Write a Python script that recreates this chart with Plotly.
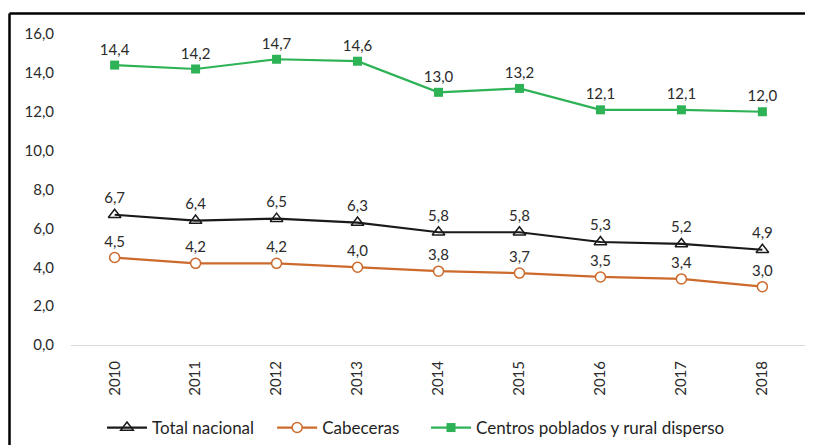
import plotly.graph_objects as go

years = ["2010", "2011", "2012", "2013", "2014", "2015", "2016", "2017", "2018"]
total_nacional = [6.7, 6.4, 6.5, 6.3, 5.8, 5.8, 5.3, 5.2, 4.9]
cabeceras = [4.5, 4.2, 4.2, 4.0, 3.8, 3.7, 3.5, 3.4, 3.0]
centros = [14.4, 14.2, 14.7, 14.6, 13.0, 13.2, 12.1, 12.1, 12.0]
y_ticks = [0, 2, 4, 6, 8, 10, 12, 14, 16]

FONT = "Lato"
OFF = 8  # page body margin
W, H = 813, 445
# target plot area in screen pixels
SX0, SX1, SY0, SY1 = 71, 806, 34, 345
ML, MT = SX0 - OFF, SY0 - OFF
MR = W - (SX1 - OFF)
MB = H - (SY1 - OFF)
PW, PH = SX1 - SX0, SY1 - SY0

def px_x(x):
    return (x - SX0) / PW

def px_y(y):
    return (SY1 - y) / PH

fig = go.Figure()

def fmt(v):
    return f"{v:.1f}".replace(".", ",")

NB = "\u00a0"
series = [
    ("Total nacional" + NB * 3, total_nacional, "#1a1a1a", dict(symbol="triangle-up-open", size=11, color="#1a1a1a", line=dict(width=1.5))),
    ("Cabeceras" + NB * 5, cabeceras, "#CC6A2C", dict(symbol="circle", size=10, color="white", line=dict(color="#CC6A2C", width=1.5))),
    ("Centros poblados y rural disperso", centros, "#2DB256", dict(symbol="square", size=9, color="#2DB256")),
]

for name, vals, col, mk in series:
    fig.add_trace(go.Scatter(
        x=years, y=vals, name=name, mode="lines+markers+text",
        line=dict(color=col, width=2.2),
        marker=mk,
        text=[fmt(v) for v in vals],
        textposition="top center",
        textfont=dict(family=FONT, size=15, color="#2b2b2b"),
        cliponaxis=False,
    ))

fig.update_layout(
    width=W, height=H,
    margin=dict(l=ML, r=MR, t=MT, b=MB, autoexpand=False),
    paper_bgcolor="white", plot_bgcolor="white",
    separators=",.",
    font=dict(family=FONT, size=15, color="#2b2b2b"),
    showlegend=True,
    legend=dict(orientation="h", x=px_x(112 - 10), xanchor="left", y=px_y(428), yanchor="middle",
                font=dict(family=FONT, size=17, color="#1f1f1f"), itemwidth=40,
                tracegroupgap=0, traceorder="normal"),
    xaxis=dict(type="category", tickangle=-90, showgrid=False, showline=True, automargin=False,
               linecolor="#d9d9d9", linewidth=1, ticks="", tickfont=dict(family=FONT, size=15, color="#2b2b2b"),
               ticklabelstandoff=9),
    yaxis=dict(range=[0, 16], tickvals=y_ticks, tickformat=".1f", showgrid=False, automargin=False,
               zeroline=False, showline=False, ticks="",
               tickfont=dict(family=FONT, size=15, color="#2b2b2b"), ticklabelstandoff=16),
)

fig.add_shape(type="line", xref="paper", yref="paper", x0=px_x(9.5), x1=px_x(830), y0=px_y(13.5), y1=px_y(13.5),
              line=dict(color="black", width=2.5))
fig.add_shape(type="line", xref="paper", yref="paper", x0=px_x(9.5), x1=px_x(9.5), y0=px_y(13.5), y1=px_y(460),
              line=dict(color="black", width=2.5))

fig.write_html("out.html")
